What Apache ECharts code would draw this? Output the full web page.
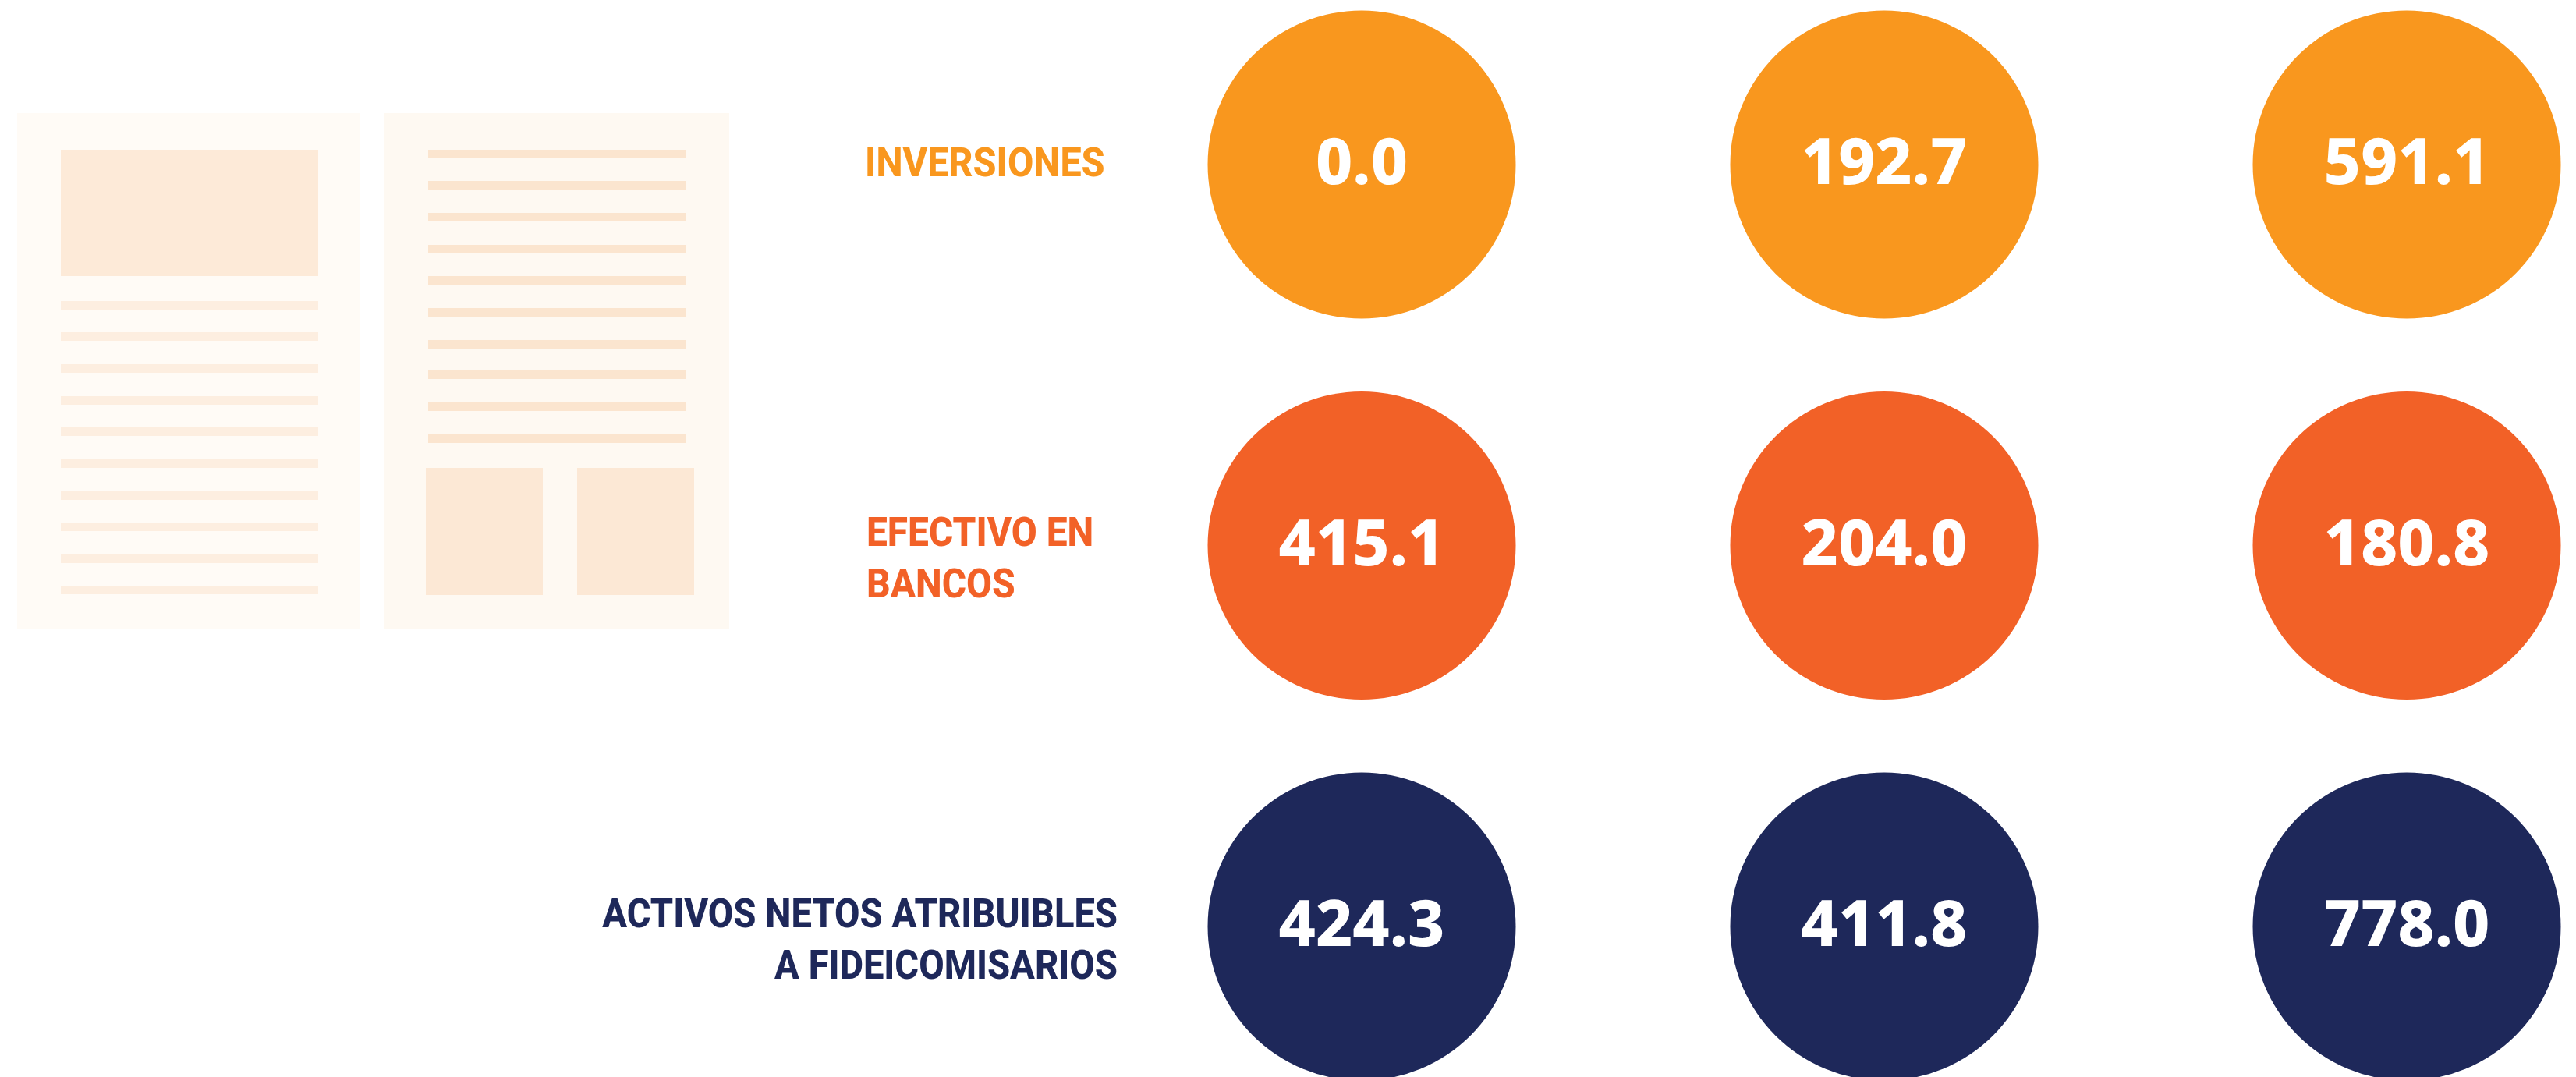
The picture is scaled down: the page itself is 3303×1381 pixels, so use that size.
<!DOCTYPE html>
<html>
<head>
<meta charset="utf-8">
<title>Activos</title>
<style>
html, body { margin: 0; padding: 0; background: #fff; }
#main { width: 3303px; height: 1381px; }
</style>
<script src="https://cdn.jsdelivr.net/npm/echarts@6/dist/echarts.min.js"></script>
</head>
<body>
<div id="main"></div>
<script>
const columns = ['A', 'B', 'C']
const rowNames = ['INVERSIONES', 'EFECTIVO EN\nBANCOS', 'ACTIVOS NETOS ATRIBUIBLES\nA FIDEICOMISARIOS']
const inversiones = [0.0, 192.7, 591.1]
const efectivo = [415.1, 204.0, 180.8]
const activos = [424.3, 411.8, 778.0]

const rowValues = [inversiones, efectivo, activos]
const rowColors = ['#F9971E', '#F26127', '#1E285A']

// row titles sit left of the circles, each with its own alignment
// no condensed bold installed, so Roboto gets squeezed a bit (scale)
const titleStyles = [
  { x: 1109, y: 180, align: 'left', scale: 0.93 },
  { x: 1111, y: 654, align: 'left', scale: 0.92 },
  { x: 1433, y: 1143, align: 'right', scale: 0.905 }
]

// the two paper pages on the left
function rect(x, y, width, height, fill) {
  return { type: 'rect', shape: { x, y, width, height }, style: { fill }, silent: true }
}
const pages = [
  rect(22, 145, 440, 662, '#FFFBF6'),
  rect(493, 145, 442, 662, '#FEF9F2'),
  rect(78, 192, 330, 162, '#FDEAD8'),
  rect(546, 600, 150, 163, '#FCE8D5'),
  rect(740, 600, 150, 163, '#FCE8D5')
]
const leftLines = [386, 426, 467, 508, 548, 589, 630, 670, 711, 751]
const rightLines = [192, 232, 273, 314, 354, 395, 436, 475, 516, 557]
leftLines.forEach(y => pages.push(rect(78, y, 330, 11, '#FDEEE0')))
rightLines.forEach(y => pages.push(rect(549, y, 330, 11, '#FBE5CF')))

const titles = rowNames.map((name, i) => ({
  type: 'text',
  x: titleStyles[i].x,
  y: titleStyles[i].y,
  scaleX: titleStyles[i].scale,
  silent: true,
  style: {
    text: name,
    fill: rowColors[i],
    align: titleStyles[i].align,
    font: '800 52px Roboto',
    lineHeight: 66
  }
}))

const myChart = echarts.init(document.getElementById('main'), null, { renderer: 'canvas' })
myChart.setOption({
  animation: false,
  backgroundColor: '#fff',
  grid: { left: 1746, right: 217, top: 211, bottom: 193 },
  xAxis: {
    type: 'category',
    boundaryGap: false,
    data: columns,
    show: false
  },
  yAxis: {
    type: 'category',
    boundaryGap: false,
    inverse: true,
    data: rowNames,
    show: false
  },
  graphic: pages.concat(titles),
  series: rowValues.map((values, r) => ({
    type: 'scatter',
    name: rowNames[r],
    clip: false,
    symbol: 'circle',
    symbolSize: 395,
    itemStyle: { color: rowColors[r], opacity: 1 },
    label: {
      show: true,
      position: 'inside',
      offset: [0, 2],
      color: '#fff',
      fontFamily: 'Noto Sans',
      fontWeight: 800,
      fontSize: 82,
      formatter: p => p.value[2].toFixed(1)
    },
    data: values.map((v, c) => [c, r, v])
  }))
})
</script>
</body>
</html>
